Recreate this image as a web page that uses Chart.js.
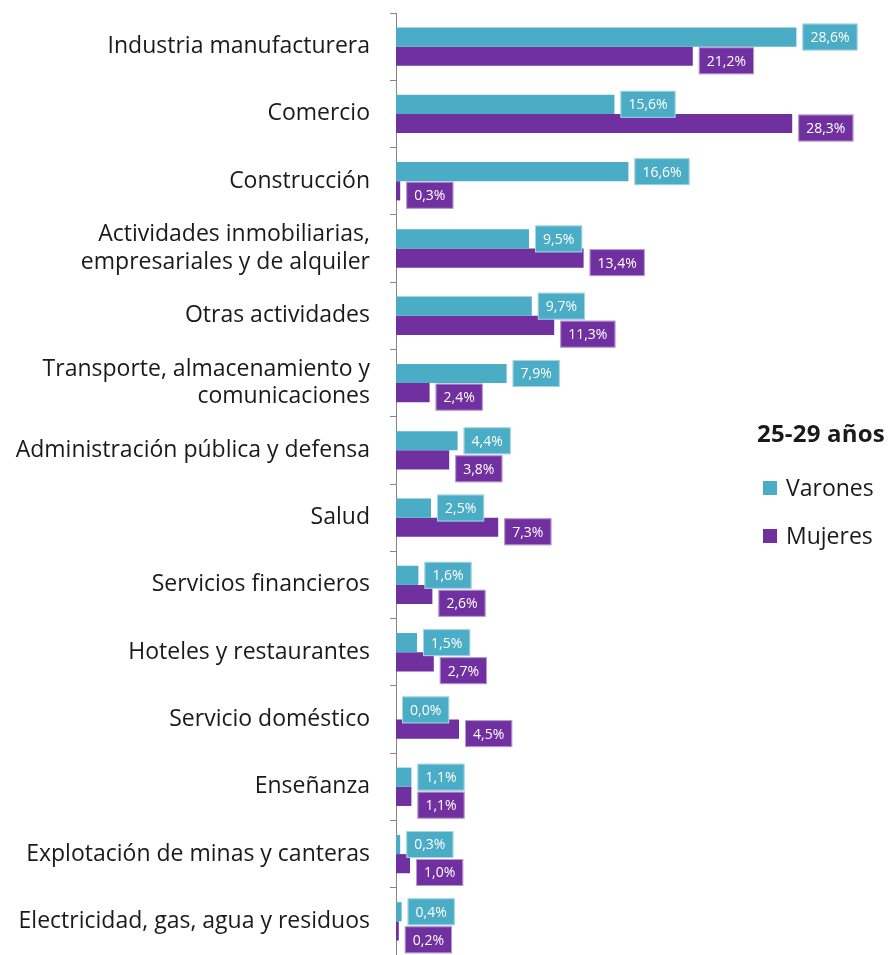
<!DOCTYPE html>
<html>
<head>
<meta charset="utf-8">
<script src="https://cdn.jsdelivr.net/npm/chart.js@4"></script>
<style>
  body { margin: 0; background: #fff; }
  .wrap { position: relative; width: 893px; height: 955px; }
  .lg { position: absolute; font-family: "Open Sans", sans-serif; color: #1a1a1a; white-space: nowrap; line-height: 30px; height: 30px; }
  .lg.title { font-size: 24px; font-weight: bold; letter-spacing: 0.2px; }
  .lg.item { font-size: 23px; }
  .lg span { display: inline-block; width: 14px; height: 14px; margin-right: 9px; vertical-align: 1px; }
</style>
</head>
<body>
<div class="wrap">
  <canvas id="myChart" width="893" height="955"></canvas>
  <div class="lg title" id="lgTitle" style="left:757px; top:418px;"></div>
  <div class="lg item" id="lgItem0" style="left:763px; top:472px;"></div>
  <div class="lg item" id="lgItem1" style="left:763px; top:520px;"></div>
</div>
<script>
"use strict";

const categories = [
  "Industria manufacturera",
  "Comercio",
  "Construcción",
  ["Actividades inmobiliarias,", "empresariales y de alquiler"],
  "Otras actividades",
  ["Transporte, almacenamiento y", "comunicaciones"],
  "Administración pública y defensa",
  "Salud",
  "Servicios financieros",
  "Hoteles y restaurantes",
  "Servicio doméstico",
  "Enseñanza",
  "Explotación de minas y canteras",
  "Electricidad, gas, agua y residuos",
];
const varones = [28.6, 15.6, 16.6, 9.5, 9.7, 7.9, 4.4, 2.5, 1.6, 1.5, 0.0, 1.1, 0.3, 0.4];
const mujeres = [21.2, 28.3, 0.3, 13.4, 11.3, 2.4, 3.8, 7.3, 2.6, 2.7, 4.5, 1.1, 1.0, 0.2];
const seriesNames = ["Varones", "Mujeres"];
const legendTitle = "25-29 años";

const TEAL = "#4BACC6";
const PURPLE = "#7030A0";

// LEGEND (html)
document.getElementById("lgTitle").textContent = legendTitle;
document.getElementById("lgItem0").innerHTML = "<span style='background:" + TEAL + "'></span>" + seriesNames[0];
document.getElementById("lgItem1").innerHTML = "<span style='background:" + PURPLE + "'></span>" + seriesNames[1];

// DATA LABEL BOXES
const boxLabels = {
  id: "boxLabels",
  afterDatasetsDraw(chart) {
    const ctx = chart.ctx;
    ctx.save();
    ctx.font = "14px 'Open Sans'";
    ctx.textBaseline = "middle";
    ctx.textAlign = "center";
    const h = 27;
    const m0 = chart.getDatasetMeta(0);
    const m1 = chart.getDatasetMeta(1);
    for (let i = 0; i < categories.length; i++) {
      const t0 = varones[i].toFixed(1).replace(".", ",") + "%";
      const t1 = mujeres[i].toFixed(1).replace(".", ",") + "%";
      const w0 = ctx.measureText(t0).width + 16;
      const w1 = ctx.measureText(t1).width + 16;
      const b0 = m0.data[i], b1 = m1.data[i];
      const x0 = b0.x + 6, x1 = b1.x + 6;
      let y0 = b0.y;
      let y1 = b1.y + 4.5;
      // push purple box down when the two boxes would collide
      const overlapX = x0 < x1 + w1 && x1 < x0 + w0;
      if (overlapX && y1 - y0 < h) y1 = y0 + h + 1;
      [[t0, x0, y0, w0, TEAL], [t1, x1, y1, w1, PURPLE]].forEach(([t, x, y, w, c]) => {
        ctx.fillStyle = c;
        ctx.fillRect(x, y - h / 2, w, h);
        ctx.strokeStyle = "rgba(255,255,255,0.5)";
        ctx.lineWidth = 1;
        ctx.strokeRect(x + 0.5, y - h / 2 + 0.5, w - 1, h - 1);
        ctx.fillStyle = "#ffffff";
        ctx.fillText(t, x + w / 2, y + 1);
      });
    }
    ctx.restore();
  },
};

const ctx = document.getElementById("myChart").getContext("2d");
const myChart = new Chart(ctx, {
  type: "bar",
  data: {
    labels: categories,
    datasets: [
      { label: seriesNames[0], data: varones, backgroundColor: TEAL },
      { label: seriesNames[1], data: mujeres, backgroundColor: PURPLE },
    ],
  },
  options: {
    indexAxis: "y",
    responsive: false,
    animation: false,
    categoryPercentage: 0.57,
    barPercentage: 1,
    layout: { padding: { top: 13, right: 7, bottom: 0, left: 0 } },
    plugins: {
      legend: { display: false },
      tooltip: { enabled: false },
    },
    scales: {
      x: { display: false, min: 0, max: 35 },
      y: {
        afterFit(scale) {
          scale.width = 396;
          scale.paddingTop = 0;
          scale.paddingBottom = 0;
        },
        border: { color: "#868686", width: 1 },
        grid: { drawOnChartArea: false, tickLength: 6, color: "#868686", offset: true },
        ticks: {
          color: "#1a1a1a",
          padding: 20,
          font: { family: "Open Sans", size: 23 },
        },
      },
    },
  },
  plugins: [boxLabels],
});
</script>
</body>
</html>
